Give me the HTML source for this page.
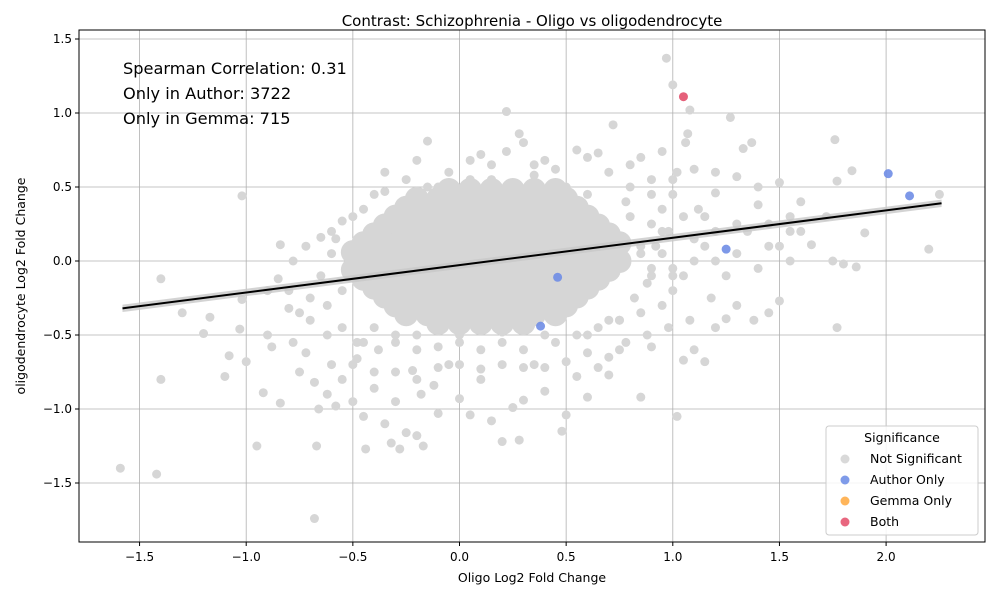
<!DOCTYPE html>
<html><head><meta charset="utf-8"><style>
html,body{margin:0;padding:0;background:#fff;}
svg{display:block;font-family:"DejaVu Sans","Liberation Sans",sans-serif;}
</style></head><body>
<svg id="chart" width="1000" height="600" viewBox="0 0 1000 600">
<rect x="0" y="0" width="1000" height="600" fill="#fff"/>
<g id="grid"></g>
<g id="pts"></g>
<g id="reg"></g>
<rect x="79" y="30" width="906" height="512" fill="none" stroke="#000" stroke-width="1"/>
<g id="ticks"></g>
<text x="532" y="26" font-size="15" text-anchor="middle">Contrast: Schizophrenia - Oligo vs oligodendrocyte</text>
<text x="532" y="582" font-size="12.5" text-anchor="middle">Oligo Log2 Fold Change</text>
<text transform="translate(25,286) rotate(-90)" font-size="12.5" text-anchor="middle">oligodendrocyte Log2 Fold Change</text>
<text x="123" y="74" font-size="16.2">Spearman Correlation: 0.31</text>
<text x="123" y="99" font-size="16.2">Only in Author: 3722</text>
<text x="123" y="124" font-size="16.2">Only in Gemma: 715</text>
<g>
<rect x="826" y="426" width="152" height="109" rx="3" fill="#fff" fill-opacity="0.85" stroke="#ccc"/>
<text x="902" y="442" font-size="12.5" text-anchor="middle">Significance</text>
<circle cx="845" cy="459" r="4.5" fill="#d9d9d9"/>
<text x="870" y="463" font-size="12.5">Not Significant</text>
<circle cx="845" cy="480" r="4.5" fill="#7f9be9"/>
<text x="870" y="484" font-size="12.5">Author Only</text>
<circle cx="845" cy="501" r="4.5" fill="#ffb55a"/>
<text x="870" y="505" font-size="12.5">Gemma Only</text>
<circle cx="845" cy="522" r="4.5" fill="#e8677f"/>
<text x="870" y="526" font-size="12.5">Both</text>
</g>
</svg>
<script>
const xTicks=[-1.5,-1.0,-0.5,0.0,0.5,1.0,1.5,2.0];
const xTickLabels=["\u22121.5","\u22121.0","\u22120.5","0.0","0.5","1.0","1.5","2.0"];
const yTicks=[-1.5,-1.0,-0.5,0.0,0.5,1.0,1.5];
const yTickLabels=["\u22121.5","\u22121.0","\u22120.5","0.0","0.5","1.0","1.5"];
const coreY=[0.48,0.42,0.36,0.30,0.24,0.18,0.12,0.06,0.00,-0.06,-0.12,-0.18,-0.24,-0.30,-0.36,-0.42];
const coreX=[
[-0.05,0.05,0.15,0.25,0.35,0.45],
[-0.2,-0.1,0.0,0.1,0.2,0.3,0.4,0.5],
[-0.25,-0.15,-0.05,0.05,0.15,0.25,0.35,0.45,0.55],
[-0.3,-0.2,-0.1,0.0,0.1,0.2,0.3,0.4,0.5,0.6],
[-0.35,-0.25,-0.15,-0.05,0.05,0.15,0.25,0.35,0.45,0.55,0.65],
[-0.4,-0.3,-0.2,-0.1,0.0,0.1,0.2,0.3,0.4,0.5,0.6,0.7],
[-0.45,-0.35,-0.25,-0.15,-0.05,0.05,0.15,0.25,0.35,0.45,0.55,0.65,0.75],
[-0.5,-0.4,-0.3,-0.2,-0.1,0.0,0.1,0.2,0.3,0.4,0.5,0.6,0.7],
[-0.45,-0.35,-0.25,-0.15,-0.05,0.05,0.15,0.25,0.35,0.45,0.55,0.65,0.75],
[-0.5,-0.4,-0.3,-0.2,-0.1,0.0,0.1,0.2,0.3,0.4,0.5,0.6,0.7],
[-0.45,-0.35,-0.25,-0.15,-0.05,0.05,0.15,0.25,0.35,0.45,0.55,0.65],
[-0.4,-0.3,-0.2,-0.1,0.0,0.1,0.2,0.3,0.4,0.5,0.6],
[-0.35,-0.25,-0.15,-0.05,0.05,0.15,0.25,0.35,0.45,0.55],
[-0.3,-0.2,-0.1,0.0,0.1,0.2,0.3,0.4,0.5],
[-0.25,-0.15,-0.05,0.05,0.15,0.25,0.35,0.45],
[-0.1,0.0,0.1,0.2,0.3]
];
const nsX=[-1.59,-1.42,-1.40,-1.40,-1.30,-1.20,-1.17,-1.10,-1.08,-1.03,-1.02,-1.02,-1.00,-0.95,-0.92,-0.90,-0.88,-0.84,-0.84,-0.80,-0.78,-0.75,-0.72,-0.70,-0.68,-0.67,-0.66,-0.68,-0.62,-0.60,-0.58,-0.55,-0.50,-0.48,-0.45,-0.44,-0.40,-0.38,-0.35,-0.32,-0.30,-0.28,-0.25,-0.22,-0.20,-0.18,-0.17,-0.12,-0.10,-0.05,0.0,0.05,0.1,0.15,0.20,0.25,0.28,0.30,0.35,0.40,0.48,0.50,0.55,0.60,0.65,0.70,0.75,0.85,0.90,1.02,1.05,1.10,1.15,1.20,1.25,1.30,1.38,1.45,1.50,1.77,1.75,1.80,1.86,1.90,2.20,2.25,1.84,1.76,1.77,1.72,1.65,1.60,1.55,1.50,1.45,1.40,1.37,1.33,1.30,1.27,1.20,1.15,1.10,1.07,1.06,1.02,0.97,1.00,1.08,0.95,0.90,0.85,0.80,0.72,0.65,0.60,0.55,0.45,0.40,0.30,0.28,0.22,0.22,0.15,0.10,0.05,-0.05,-0.15,-0.20,-0.25,-0.35,-0.45,-0.55,-0.60,-0.65,-0.72,-0.78,-0.85,-0.90,-0.80,-0.70,-0.65,-0.75,-0.62,-0.55,-0.48,-0.40,-0.30,-0.20,-0.10,0.0,0.10,0.2,0.3,0.45,0.55,0.65,0.75,0.85,0.95,1.00,1.05,1.10,1.15,1.20,1.25,1.30,1.35,1.40,1.45,1.50,1.55,1.60,1.00,0.95,0.90,0.88,0.92,0.98,1.05,1.12,1.18,1.08,0.98,0.88,0.78,0.70,0.60,0.50,0.40,0.30,0.20,0.10,0.0,-0.10,-0.20,-0.30,-0.40,-0.50,-0.35,-0.10,0.35,0.70,0.80,0.90,1.00,1.20,1.40,1.55,0.95,1.0,1.1,1.2,0.9,1.3,
-0.6,-0.55,-0.62,-0.58,-0.5,0.8,0.85,0.9,0.82,0.78,0.7,0.6,-0.2,-0.3,0.0,0.2,0.4,0.6,0.5,-0.45,-0.4,0.85,1.0,1.1,0.95,0.75,0.15,0.35,-0.15,0.05];
const nsY=[-1.40,-1.44,-0.80,-0.12,-0.35,-0.49,-0.38,-0.78,-0.64,-0.46,0.44,-0.26,-0.68,-1.25,-0.89,-0.50,-0.58,-0.96,0.11,-0.32,-0.55,-0.75,-0.62,-0.40,-0.82,-1.25,-1.00,-1.74,-0.90,-0.70,-0.98,-0.80,-0.95,-0.66,-1.05,-1.27,-0.86,-0.60,-1.10,-1.23,-0.95,-1.27,-1.16,-0.74,-1.18,-0.90,-1.25,-0.84,-1.03,-0.70,-0.93,-1.04,-0.80,-1.08,-1.22,-0.99,-1.21,-0.94,-0.70,-0.88,-1.15,-1.04,-0.78,-0.92,-0.72,-0.77,-0.60,-0.92,-0.58,-1.05,-0.67,-0.60,-0.68,-0.45,-0.39,-0.30,-0.40,-0.35,-0.27,-0.45,0.0,-0.02,-0.04,0.19,0.08,0.45,0.61,0.82,0.54,0.30,0.11,0.40,0.20,0.53,0.10,0.38,0.80,0.76,0.57,0.97,0.46,0.30,0.62,0.86,0.80,0.60,1.37,1.19,1.02,0.74,0.55,0.70,0.65,0.92,0.73,0.70,0.75,0.62,0.68,0.80,0.86,0.74,1.01,0.65,0.72,0.68,0.60,0.81,0.68,0.55,0.47,0.35,0.27,0.20,0.16,0.10,0.00,-0.12,-0.20,-0.20,-0.25,-0.10,-0.35,-0.50,-0.45,-0.55,-0.45,-0.55,-0.60,-0.58,-0.55,-0.60,-0.55,-0.60,-0.55,-0.50,-0.45,-0.40,-0.35,-0.30,-0.20,-0.10,0.0,0.1,0.2,-0.1,0.05,0.2,-0.05,0.25,0.1,0.0,0.2,0.45,0.35,0.25,-0.15,0.1,0.2,0.3,0.35,-0.25,-0.40,-0.45,-0.50,-0.55,-0.65,-0.62,-0.68,-0.72,-0.72,-0.70,-0.73,-0.70,-0.72,-0.80,-0.75,-0.75,-0.70,0.60,0.50,0.65,0.60,0.50,0.45,0.55,0.60,0.50,0.30,0.05,-0.1,0.15,0.0,-0.05,0.25,
0.05,-0.2,-0.3,0.15,0.3,0.3,0.1,-0.1,-0.25,0.4,-0.4,-0.5,-0.5,-0.5,-0.5,-0.48,-0.5,0.45,0.5,-0.55,0.45,0.05,-0.05,0.15,0.2,-0.4,0.55,0.58,0.5,0.55];
const authorX=[2.01,2.11,1.25,0.38,0.46];
const authorY=[0.59,0.44,0.08,-0.44,-0.11];
const gemmaX=[];
const gemmaY=[];
const bothX=[1.05];
const bothY=[1.11];
const regX=[-1.58,2.26];
const regY=[-0.32,0.39];
const bandHalf=[0.025,0.025];

const NS="http://www.w3.org/2000/svg";
const sx=v=>459.5+v*213.3;
const sy=v=>261-v*148;
function mk(tag,attrs,parent){const e=document.createElementNS(NS,tag);for(const k in attrs)e.setAttribute(k,attrs[k]);document.getElementById(parent).appendChild(e);return e;}

xTicks.forEach((t,i)=>{
  const g=mk('line',{x1:sx(t),x2:sx(t),y1:30,y2:542,stroke:'#b0b0b0','stroke-width':0.8},'grid');
  
  
  const tk=mk('line',{x1:sx(t),x2:sx(t),y1:542,y2:546,stroke:'#000'},'ticks');
  
  
  const l=mk('text',{x:sx(t),y:561,'font-size':12,'text-anchor':'middle'},'ticks');
  l.textContent=xTickLabels[i];
  
  
});
yTicks.forEach((t,i)=>{
  const g=mk('line',{x1:79,x2:985,y1:sy(t),y2:sy(t),stroke:'#b0b0b0','stroke-width':0.8},'grid');
  
  
  const tk=mk('line',{x1:75,x2:79,y1:sy(t),y2:sy(t),stroke:'#000'},'ticks');
  
  
  const l=mk('text',{x:72,y:sy(t)+4,'font-size':12,'text-anchor':'end'},'ticks');
  l.textContent=yTickLabels[i];
  
  
});
coreY.forEach((y,i)=>{coreX[i].forEach(x=>{
  const c=mk('circle',{cx:sx(x),cy:sy(y),r:12,fill:'#d6d6d6'},'pts');
  
  
});});
nsX.forEach((x,i)=>{
  const c=mk('circle',{cx:sx(x),cy:sy(nsY[i]),r:4.5,fill:'#d6d6d6'},'pts');
  
  
});
const bp=`${sx(regX[0])},${sy(regY[0]+bandHalf[0])} ${sx(regX[1])},${sy(regY[1]+bandHalf[1])} ${sx(regX[1])},${sy(regY[1]-bandHalf[1])} ${sx(regX[0])},${sy(regY[0]-bandHalf[0])}`;
const band=mk('polygon',{points:bp,fill:'#c8c8c8','fill-opacity':0.8},'reg');


const rl=mk('line',{x1:sx(regX[0]),y1:sy(regY[0]),x2:sx(regX[1]),y2:sy(regY[1]),stroke:'#000','stroke-width':2},'reg');


authorX.forEach((x,i)=>{
  const c=mk('circle',{cx:sx(x),cy:sy(authorY[i]),r:4.5,fill:'#6f8de6','fill-opacity':0.9},'reg');
  
  
});
gemmaX.forEach((x,i)=>{
  const c=mk('circle',{cx:sx(x),cy:sy(gemmaY[i]),r:4.5,fill:'#ffb55a'},'reg');
  
  
});
bothX.forEach((x,i)=>{
  const c=mk('circle',{cx:sx(x),cy:sy(bothY[i]),r:4.5,fill:'#e5607a'},'reg');
  
  
});
</script>
</body></html>
